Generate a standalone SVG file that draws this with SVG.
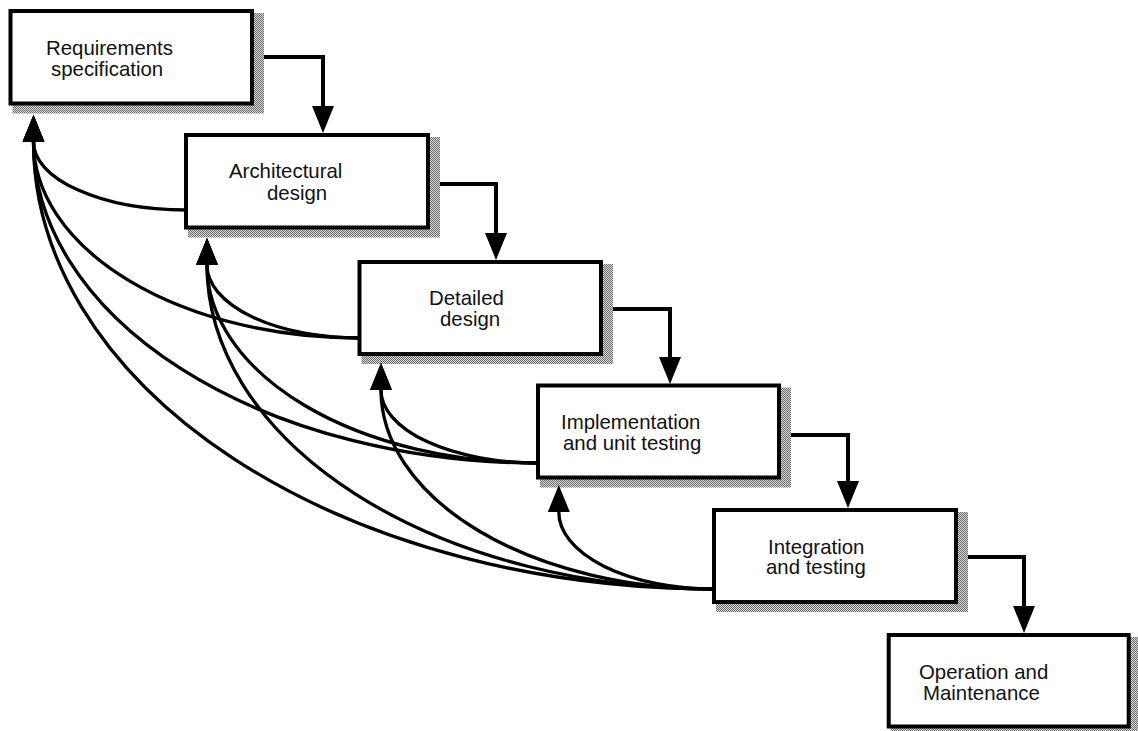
<svg xmlns="http://www.w3.org/2000/svg" width="1138" height="731" viewBox="0 0 1138 731">
  <style>
    .box { fill: #ffffff; stroke: #000000; stroke-width: 4; }
    .shadow { fill: url(#stipple); stroke: none; }
    .label { font-family: "Liberation Sans", Arial, Helvetica, sans-serif; font-size: 20.4px; fill: #111111; }
    .step { fill: none; stroke: #000000; stroke-width: 4; marker-end: url(#head); }
    .back { fill: none; stroke: #000000; stroke-width: 3.3; marker-end: url(#head); }
  </style>
  <defs>
    <!-- fine dithered grey used for drop shadows -->
    <pattern id="stipple" width="2" height="2" patternUnits="userSpaceOnUse">
      <rect width="2" height="2" fill="#d6d6d6"/>
      <rect width="1" height="1" fill="#6e6e6e"/>
      <rect x="1" y="1" width="1" height="1" fill="#6e6e6e"/>
    </pattern>
    <marker id="head" markerUnits="userSpaceOnUse" markerWidth="27" markerHeight="22" viewBox="0 0 27 22" refX="0" refY="11" orient="auto">
      <path d="M0,0 L27,11 L0,22 z" fill="#000000"/>
    </marker>
  </defs>

  <rect width="1138" height="731" fill="#ffffff"/>

  <g id="requirements">
    <rect class="shadow" x="12.5" y="13" width="251.5" height="100.5"/>
    <rect class="box" x="10.5" y="11" width="241.5" height="92.5"/>
    <text class="label" x="46" y="55">Requirements</text>
    <text class="label" x="51" y="76">specification</text>
  </g>

  <g id="architectural">
    <rect class="shadow" x="188" y="137" width="252" height="100.5"/>
    <rect class="box" x="186" y="135" width="242" height="92.5"/>
    <text class="label" x="229" y="178">Architectural</text>
    <text class="label" x="267" y="200">design</text>
  </g>

  <g id="detailed">
    <rect class="shadow" x="361.5" y="264" width="251.5" height="100"/>
    <rect class="box" x="359.5" y="262" width="241.5" height="92"/>
    <text class="label" x="429" y="305">Detailed</text>
    <text class="label" x="440" y="326">design</text>
  </g>

  <g id="implementation">
    <rect class="shadow" x="540" y="387.5" width="251" height="100"/>
    <rect class="box" x="538" y="385.5" width="241" height="92"/>
    <text class="label" x="561" y="428.5">Implementation</text>
    <text class="label" x="563" y="450">and unit testing</text>
  </g>

  <g id="integration">
    <rect class="shadow" x="716" y="512" width="252" height="100"/>
    <rect class="box" x="714" y="510" width="242" height="92"/>
    <text class="label" x="768" y="554">Integration</text>
    <text class="label" x="766" y="574">and testing</text>
  </g>

  <g id="operation">
    <rect class="shadow" x="890.7" y="637" width="250" height="99.5"/>
    <rect class="box" x="888.7" y="635" width="240" height="91.5"/>
    <text class="label" x="919" y="679">Operation and</text>
    <text class="label" x="923" y="700">Maintenance</text>
  </g>

  <g id="connectors">
    <!-- forward flow, stage to stage -->
    <path class="step" d="M264,57 H323 V106"/>
    <path class="step" d="M440,184 H496 V233"/>
    <path class="step" d="M613,309 H670 V357"/>
    <path class="step" d="M791,435 H848 V481"/>
    <path class="step" d="M968,557 H1024 V606"/>

    <!-- feedback arcs, from a stage's left side back to earlier stages -->
    <path class="back" d="M186,210 A152.5,68 0 0 1 33.5,142"/>

    <path class="back" d="M359.5,338 A152.5,73 0 0 1 207,265"/>
    <path class="back" d="M359.5,338 A326,196 0 0 1 33.5,142"/>

    <path class="back" d="M538,463 A157,73 0 0 1 381,390"/>
    <path class="back" d="M538,463 A331,198 0 0 1 207,265"/>
    <path class="back" d="M538,463 A504.5,321 0 0 1 33.5,142"/>

    <path class="back" d="M714,589 A155.2,77 0 0 1 558.8,512"/>
    <path class="back" d="M714,589 A333,199 0 0 1 381,390"/>
    <path class="back" d="M714,589 A507,324 0 0 1 207,265"/>
    <path class="back" d="M714,589 A680.5,447 0 0 1 33.5,142"/>
  </g>
</svg>
